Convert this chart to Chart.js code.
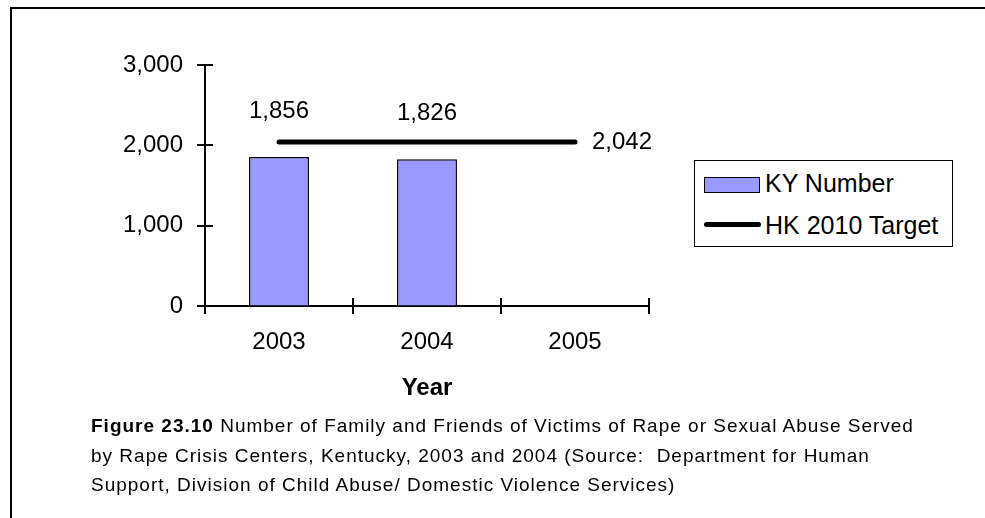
<!DOCTYPE html>
<html>
<head>
<meta charset="utf-8">
<script src="https://cdn.jsdelivr.net/npm/chart.js@4/dist/chart.umd.min.js"></script>
<style>
    body { margin: 0; background: #fff; font-family: "Liberation Sans", Arial, sans-serif; }
    #wrap { position: relative; width: 985px; height: 518px; overflow: hidden; }
    #frame { position: absolute; left: 10px; top: 7px; width: 1000px; height: 520px;
             border-top: 2px solid #000; border-left: 2px solid #000; }
    #chart { position: absolute; left: 0; top: 0; }
    #legend { position: absolute; left: 694px; top: 160px; width: 257px; height: 85px;
              border: 1px solid #000; background: #fff; }
    .item { position: absolute; left: 70px; font-size: 25px; line-height: 28px; white-space: nowrap; }
    .sw { position: absolute; }
    #caption { position: absolute; left: 91px; top: 411px; font-size: 19px; line-height: 29.5px;
               letter-spacing: 1px; color: #000; white-space: nowrap; }
</style>
</head>
<body>
<div id="wrap">
    <div id="frame"></div>
    <canvas id="chart" width="985" height="518"></canvas>
    <div id="legend"></div>
    <div id="caption">
        <b>Figure 23.10</b> Number of Family and Friends of Victims of Rape or Sexual Abuse Served<br>
        by Rape Crisis Centers, Kentucky, 2003 and 2004 (Source:&nbsp; Department for Human<br>
        Support, Division of Child Abuse/ Domestic Violence Services)
    </div>
</div>
<script>
document.addEventListener('DOMContentLoaded', () => {
    const years = ['2003', '2004', '2005'];
    const kyNumber = [1856, 1826, null];
    const hkTarget = [2042, 2042, 2042];
    const yTicks = [0, 1000, 2000, 3000];

    const barColor = '#9999FF';
    const fontFamily = '"Liberation Sans", Arial, sans-serif';

    function fmt(v) {
        return Number(v).toLocaleString('en-US');
    }

    // legend in html, same look as the excel one
    const legendEl = document.getElementById('legend');
    legendEl.innerHTML =
        '<div class="sw" style="left:9px;top:16px;width:54px;height:14px;background:' + barColor + ';border:1px solid #000"></div>' +
        '<div class="item" style="top:8px">KY Number</div>' +
        '<div class="sw" style="left:9px;top:61px;width:57px;height:5px;background:#000;border-radius:3px"></div>' +
        '<div class="item" style="top:50px">HK 2010 Target</div>';

    // tick marks crossing the axes + value labels
    const extras = {
        id: 'extras',
        afterDatasetsDraw(chart) {
            const ctx = chart.ctx;
            const x = chart.scales.x;
            const y = chart.scales.y;
            ctx.save();
            ctx.strokeStyle = '#000';
            ctx.lineWidth = 2;
            ctx.beginPath();
            yTicks.forEach(v => {
                const py = Math.round(y.getPixelForValue(v));
                ctx.moveTo(x.left - 8, py);
                ctx.lineTo(x.left + 8, py);
            });
            const step = (x.right - x.left) / years.length;
            for (let i = 0; i <= years.length; i++) {
                const px = Math.round(x.left + i * step);
                ctx.moveTo(px, y.bottom - 8);
                ctx.lineTo(px, y.bottom + 8);
            }
            ctx.stroke();

            ctx.fillStyle = '#000';
            ctx.font = '24px ' + fontFamily;
            ctx.textBaseline = 'middle';
            ctx.textAlign = 'center';
            chart.getDatasetMeta(0).data.forEach((bar, i) => {
                if (kyNumber[i] == null) return;
                ctx.fillText(fmt(kyNumber[i]), bar.x, bar.y - 46);
            });
            const pts = chart.getDatasetMeta(1).data;
            const last = pts[pts.length - 1];
            ctx.textAlign = 'left';
            ctx.fillText(fmt(hkTarget[hkTarget.length - 1]), last.x + 17, last.y);
            ctx.restore();
        }
    };

    new Chart(document.getElementById('chart'), {
        data: {
            labels: years,
            datasets: [
                {
                    type: 'bar',
                    label: 'KY Number',
                    data: kyNumber,
                    backgroundColor: barColor,
                    borderColor: '#000',
                    borderWidth: 1.5,
                    categoryPercentage: 1,
                    barPercentage: 0.405,
                    order: 2
                },
                {
                    type: 'line',
                    label: 'HK 2010 Target',
                    data: hkTarget,
                    borderColor: '#000',
                    borderWidth: 5,
                    borderCapStyle: 'round',
                    pointRadius: 0,
                    fill: false,
                    order: 1
                }
            ]
        },
        options: {
            responsive: false,
            animation: false,
            layout: { padding: { left: 0, top: 65, right: 336, bottom: 92 } },
            plugins: {
                legend: { display: false },
                tooltip: { enabled: false }
            },
            scales: {
                x: {
                    grid: { display: true, drawOnChartArea: false, color: 'transparent', tickLength: 8, offset: true },
                    border: { display: true, color: '#000', width: 2 },
                    ticks: { color: '#000', padding: 14, maxRotation: 0, font: { family: fontFamily, size: 24 } },
                    title: {
                        display: true,
                        text: 'Year',
                        color: '#000',
                        padding: { top: 0, bottom: 23 },
                        font: { family: fontFamily, size: 24, weight: 'bold' }
                    },
                    afterFit(scale) { scale.height = 120; }
                },
                y: {
                    min: 0,
                    max: 3000,
                    grid: { display: true, drawOnChartArea: false, color: 'transparent', tickLength: 8 },
                    border: { display: true, color: '#000', width: 2 },
                    ticks: {
                        stepSize: 1000,
                        color: '#000',
                        padding: 14,
                        font: { family: fontFamily, size: 24 },
                        callback: v => fmt(v)
                    },
                    afterFit(scale) { scale.width = 205; }
                }
            }
        },
        plugins: [extras]
    });
});
</script>
</body>
</html>
